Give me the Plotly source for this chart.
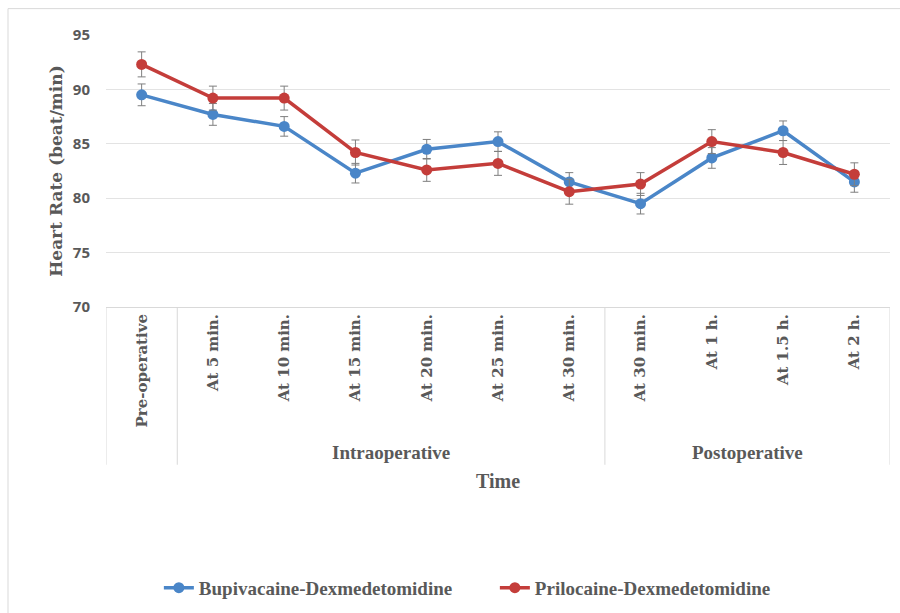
import plotly.graph_objects as go

categories = ["Pre-operative", "At 5 min.", "At 10 min.", "At 15 min.", "At 20 min.",
              "At 25 min.", "At 30 min.", "At 30 min. ", "At 1 h.", "At 1.5 h.", "At 2 h."]
tick_labels = ["Pre-operative", "At 5 min.", "At 10 min.", "At 15 min.", "At 20 min.",
               "At 25 min.", "At 30 min.", "At 30 min.", "At 1 h.", "At 1.5 h.", "At 2 h."]
bupi = [89.5, 87.7, 86.6, 82.3, 84.5, 85.2, 81.5, 79.5, 83.7, 86.2, 81.5]
bupi_err = [1.0, 1.0, 0.9, 0.9, 0.9, 0.9, 0.85, 0.95, 0.95, 0.9, 0.95]
prilo = [92.3, 89.2, 89.2, 84.2, 82.6, 83.2, 80.6, 81.3, 85.2, 84.2, 82.2]
prilo_err = [1.15, 1.1, 1.1, 1.15, 1.05, 1.1, 1.15, 1.05, 1.1, 1.1, 1.05]
groups = ["Intraoperative", "Postoperative"]
group_centers = [3.5, 8.5]
dividers = [-0.5, 0.5, 6.5, 10.5]

gray = "#595959"
grid = "#e3e3e3"
x_idx = list(range(len(categories)))

fig = go.Figure()
fig.add_trace(go.Scatter(
    x=x_idx, y=bupi, name="Bupivacaine-Dexmedetomidine", mode="lines+markers",
    line=dict(color="#4a86c8", width=3.5), marker=dict(size=11, color="#4a86c8"),
    error_y=dict(type="data", array=bupi_err, color="#7f7f7f", thickness=1, width=4)))
fig.add_trace(go.Scatter(
    x=x_idx, y=prilo, name="Prilocaine-Dexmedetomidine", mode="lines+markers",
    line=dict(color="#c43d3a", width=3.5), marker=dict(size=11, color="#c43d3a"),
    error_y=dict(type="data", array=prilo_err, color="#7f7f7f", thickness=1, width=4)))

shapes = []
for d in dividers:
    shapes.append(dict(type="line", xref="x", yref="paper", x0=d, x1=d, y0=0, y1=-0.58,
                       line=dict(color="#d9d9d9", width=1)))
# outer chart border (top and left)
shapes.append(dict(type="line", xref="paper", yref="paper", x0=-0.125, x1=1.2, y0=1.097, y1=1.097,
                   line=dict(color="#d9d9d9", width=1)))
shapes.append(dict(type="line", xref="paper", yref="paper", x0=-0.125, x1=-0.125, y0=1.097, y1=-1.3,
                   line=dict(color="#d9d9d9", width=1)))

annotations = []
for g, c in zip(groups, group_centers):
    annotations.append(dict(text=g, x=c, xref="x", y=-0.536, yref="paper", showarrow=False,
                            font=dict(family="Liberation Serif", size=19, color=gray, weight="bold"),
                            xanchor="center", yanchor="middle"))
annotations.append(dict(text="Time", x=0.5, xref="paper", y=-0.639, yref="paper", showarrow=False,
                        font=dict(family="Liberation Serif", size=20, color=gray, weight="bold"),
                        xanchor="center", yanchor="middle"))

fig.update_layout(
    width=900, height=613,
    margin=dict(l=106, r=10, t=35, b=306, autoexpand=False),
    paper_bgcolor="white", plot_bgcolor="white",
    showlegend=True,
    legend=dict(orientation="h", x=0.496, xanchor="center", y=0.041, yref="container",
                yanchor="middle", entrywidth=291,
                font=dict(family="Liberation Serif", size=19, color=gray, weight="bold")),
    shapes=shapes, annotations=annotations,
    xaxis=dict(range=[-0.5, 10.5], tickmode="array", tickvals=x_idx, ticktext=tick_labels,
               tickangle=-90, showgrid=False, zeroline=False, showline=True, linecolor="#d9d9d9",
               ticks="", tickfont=dict(family="DejaVu Serif", size=15, color=gray, weight="bold")),
    yaxis=dict(range=[70, 95], dtick=5, showgrid=True, gridcolor=grid, zeroline=False,
               showline=False, ticks="", ticklabelstandoff=15,
               tickfont=dict(family="Open Sans", size=15, color=gray, weight="bold"),
               title=dict(text="Heart Rate (beat/min)", standoff=5,
                          font=dict(family="DejaVu Serif", size=17, color=gray, weight="bold"))),
)

fig.write_html("out.html", config={"displayModeBar": False},
               post_script="document.body.style.margin='0px';")
